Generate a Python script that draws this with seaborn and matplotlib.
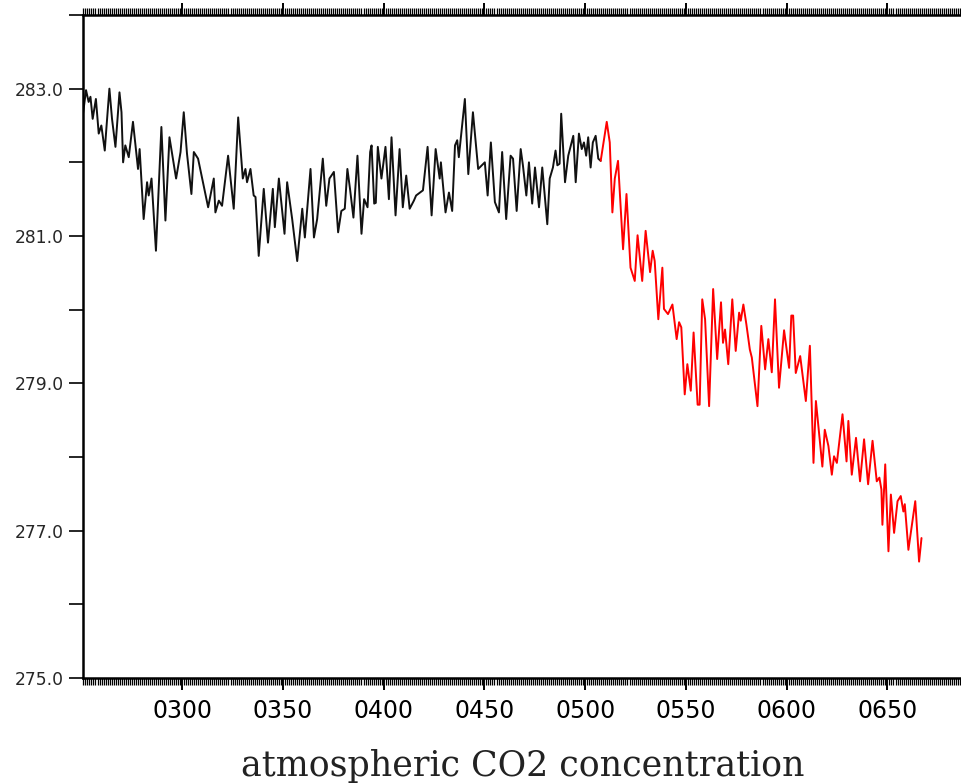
import numpy as np
import pandas as pd
import seaborn as sns
import matplotlib
matplotlib.use("Agg")
import matplotlib.pyplot as plt
from matplotlib.ticker import MultipleLocator, FixedLocator, FuncFormatter

# values (turning points of the curve)
black_years = [250.3, 252.3, 253.6, 254.5, 255.6, 257.2, 258.6, 259.9, 261.6, 262.4,
               263.9, 265.2, 266.9, 268.9, 269.9, 270.7, 271.8, 273.5, 275.6, 277.1,
               278.1, 278.9, 280.9, 282.6, 283.4, 284.8, 287.0, 289.7, 291.7, 293.7,
               297.0, 299.2, 300.8, 302.4, 304.6, 305.8, 307.9, 312.9, 315.7, 316.5,
               318.2, 319.8, 322.8, 325.6, 327.8, 330.1, 331.4, 332.2, 333.9, 335.5,
               336.4, 338.0, 340.5, 342.6, 345.0, 346.0, 348.0, 350.8, 352.1, 354.6,
               357.1, 359.6, 360.9, 363.7, 365.4, 367.0, 369.8, 371.5, 373.1, 375.3,
               377.4, 379.0, 380.7, 382.0, 383.3, 385.0, 387.0, 389.0, 390.3, 392.0,
               393.3, 394.0, 395.3, 396.1, 397.1, 398.9, 400.9, 402.6, 403.9, 405.9,
               407.9, 409.5, 411.2, 412.9, 415.0, 416.1, 419.5, 421.8, 423.8, 425.8,
               427.8, 428.4, 430.7, 432.4, 434.0, 435.4, 436.5, 437.3, 440.3, 442.0,
               444.3, 446.9, 450.2, 451.6, 453.2, 455.2, 457.2, 458.8, 460.8, 463.0,
               464.2, 466.0, 468.0, 469.1, 470.8, 472.1, 473.7, 475.1, 477.1, 478.7,
               481.2, 482.4, 484.0, 485.3, 486.2, 487.3, 488.1, 490.0, 491.6, 494.1,
               495.3, 496.9, 498.3, 499.4, 500.5, 501.5, 502.7, 503.8, 505.2, 506.5,
               507.7]
black_vals = [282.55, 282.98, 282.82, 282.89, 282.59, 282.86, 282.39, 282.50, 282.16, 282.46,
              283.00, 282.59, 282.21, 282.95, 282.68, 282.00, 282.23, 282.07, 282.55, 282.16,
              281.91, 282.18, 281.23, 281.73, 281.55, 281.78, 280.80, 282.48, 281.21, 282.34,
              281.78, 282.14, 282.68, 282.12, 281.57, 282.14, 282.05, 281.39, 281.78, 281.32,
              281.48, 281.41, 282.09, 281.37, 282.61, 281.78, 281.91, 281.73, 281.91, 281.55,
              281.53, 280.73, 281.64, 280.91, 281.64, 281.12, 281.78, 281.03, 281.73, 281.23,
              280.66, 281.37, 280.98, 281.91, 280.98, 281.23, 282.05, 281.41, 281.78, 281.87,
              281.05, 281.34, 281.37, 281.91, 281.64, 281.25, 282.09, 281.03, 281.50, 281.39,
              282.14, 282.23, 281.44, 281.45, 282.21, 281.78, 282.21, 281.50, 282.34, 281.28,
              282.18, 281.39, 281.82, 281.37, 281.48, 281.55, 281.62, 282.21, 281.28, 282.18,
              281.78, 282.00, 281.32, 281.59, 281.34, 282.23, 282.30, 282.07, 282.86, 281.84,
              282.68, 281.91, 282.00, 281.55, 282.27, 281.46, 281.32, 282.14, 281.23, 282.09,
              282.05, 281.34, 282.18, 281.96, 281.55, 282.00, 281.44, 281.93, 281.39, 281.93,
              281.16, 281.78, 281.93, 282.16, 281.96, 281.98, 282.66, 281.73, 282.09, 282.36,
              281.73, 282.39, 282.18, 282.27, 282.09, 282.34, 281.93, 282.27, 282.36, 282.05,
              282.02]

red_years = [507.7, 510.7, 512.2, 513.5, 514.7, 516.3, 518.8, 520.5, 522.5, 524.6,
             526.0, 528.3, 530.0, 532.2, 533.5, 534.5, 536.3, 538.3, 539.1, 541.1,
             543.3, 545.4, 546.6, 547.7, 549.4, 550.7, 552.4, 553.8, 555.8, 556.8,
             558.1, 559.5, 561.5, 563.5, 565.5, 567.4, 568.4, 569.4, 571.0, 573.0,
             574.7, 576.4, 577.2, 578.5, 580.0, 581.7, 582.7, 585.5, 587.4, 589.3,
             590.9, 592.6, 594.2, 596.2, 598.7, 601.2, 602.3, 603.2, 604.5, 606.7,
             609.5, 611.5, 613.3, 614.5, 617.7, 618.9, 620.7, 622.4, 623.5, 624.9,
             627.7, 629.7, 630.6, 632.3, 634.4, 636.4, 638.4, 640.4, 642.6, 644.7,
             646.0, 647.0, 647.5, 648.9, 650.5, 651.7, 653.3, 655.0, 656.6, 657.9,
             658.6, 660.4, 663.8, 665.7, 666.9]
red_vals = [282.02, 282.55, 282.27, 281.32, 281.78, 282.02, 280.82, 281.57, 280.57, 280.39,
            281.01, 280.39, 281.07, 280.51, 280.80, 280.66, 279.87, 280.57, 280.01, 279.94,
            280.07, 279.60, 279.83, 279.76, 278.85, 279.26, 278.90, 279.69, 278.71, 278.71,
            280.14, 279.87, 278.69, 280.28, 279.33, 280.10, 279.55, 279.73, 279.26, 280.14,
            279.44, 279.96, 279.85, 280.07, 279.80, 279.46, 279.35, 278.69, 279.78, 279.19,
            279.60, 279.15, 280.14, 278.94, 279.72, 279.21, 279.92, 279.92, 279.14, 279.37,
            278.76, 279.51, 277.92, 278.76, 277.87, 278.37, 278.15, 277.76, 278.01, 277.92,
            278.58, 277.94, 278.49, 277.76, 278.26, 277.67, 278.24, 277.63, 278.22, 277.67,
            277.72, 277.56, 277.08, 277.90, 276.72, 277.49, 276.97, 277.40, 277.47, 277.26,
            277.36, 276.74, 277.40, 276.58, 276.90]

y_labelled = [275, 277, 279, 281, 283]
y_unlabelled = [276, 278, 280, 282, 284]

df_black = pd.DataFrame({"year": black_years, "co2": black_vals})
df_red = pd.DataFrame({"year": red_years, "co2": red_vals})

sns.set_style("ticks")
plt.rcParams["font.family"] = ["DejaVu Sans"]

fig = plt.figure(figsize=(9.61, 7.84), dpi=100)
ax = fig.add_axes([83 / 961, 1 - 678 / 784, 1 - 83 / 961, (678 - 15) / 784])

sns.lineplot(data=df_black, x="year", y="co2", ax=ax, color="#111111",
             linewidth=1.4, estimator=None, sort=False)
sns.lineplot(data=df_red, x="year", y="co2", ax=ax, color="#ff0000",
             linewidth=1.4, estimator=None, sort=False)

ax.set_xlim(250.8, 686.5)
ax.set_ylim(275, 284)

ax.xaxis.set_major_locator(MultipleLocator(50))
ax.xaxis.set_minor_locator(MultipleLocator(1))
ax.xaxis.set_major_formatter(FuncFormatter(lambda v, p: f"{int(round(v)):04d}"))
ax.yaxis.set_major_locator(FixedLocator(y_labelled))
ax.yaxis.set_minor_locator(FixedLocator(y_unlabelled))
ax.yaxis.set_major_formatter(FuncFormatter(lambda v, p: f"{v:.1f}"))

ax.tick_params(axis="x", which="major", direction="out", length=8.5, width=1.4,
               top=True, bottom=True, labelsize=17, pad=6.5, colors="black")
ax.tick_params(axis="x", which="minor", direction="out", length=5, width=0.9,
               top=True, bottom=True, color="black")
ax.tick_params(axis="y", which="both", direction="out", length=10, width=1.4,
               left=True, right=False, labelsize=12.3, pad=4)

for side in ["left", "bottom", "top"]:
    ax.spines[side].set_linewidth(1.8)
    ax.spines[side].set_color("black")
ax.spines["right"].set_visible(False)

ax.set_ylabel("")
ax.set_xlabel("atmospheric CO2 concentration", fontsize=25, family="DejaVu Serif",
              color="#222222")
ax.xaxis.label.set_va("baseline")
ax.xaxis.set_label_coords(0.501, -0.148)

fig.savefig("out.png", dpi=100)
